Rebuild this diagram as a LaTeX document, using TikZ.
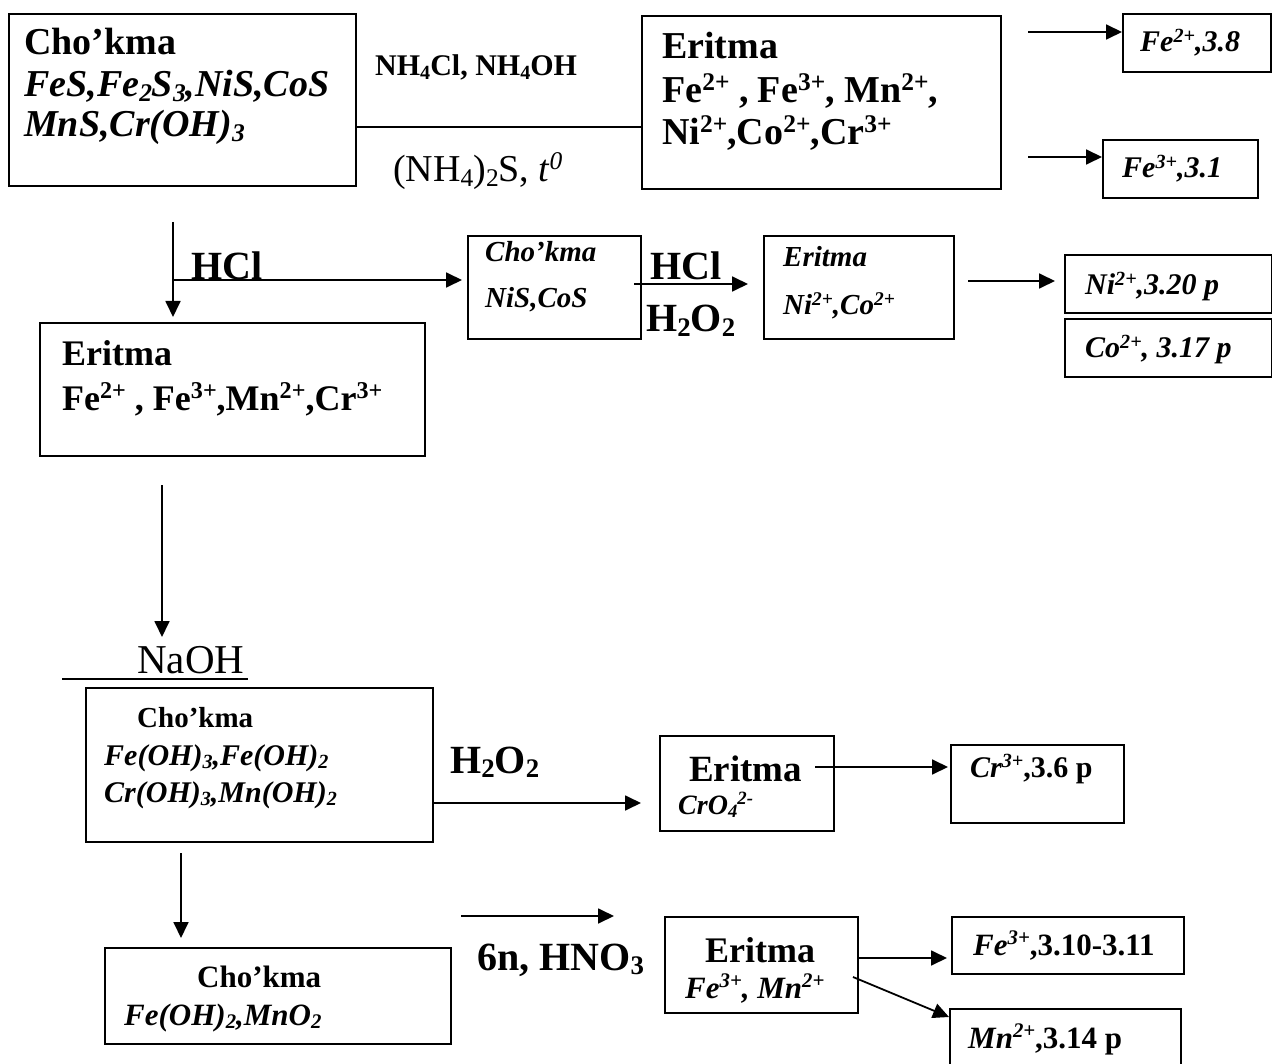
\documentclass[tikz,border=0pt]{standalone}
\usepackage{fontspec}
\usepackage{graphicx}
\setmainfont{Liberation Serif}
\usetikzlibrary{arrows.meta}
\newcommand\sps[1]{\raisebox{0.33em}{\scalebox{0.67}{#1}}}
\newcommand\sbs[1]{\raisebox{-0.12em}{\scalebox{0.67}{#1}}}
\newcommand\fz[1]{\fontsize{#1}{#1}\selectfont}
\tikzset{
  bx/.style={draw, line width=1.8pt, inner sep=0pt, anchor=north west},
  tx/.style={anchor=base west, inner sep=0pt},
  arr/.style={line width=1.8pt, -{Triangle[length=16pt,width=15pt]}},
  ln/.style={line width=1.8pt},
}
\begin{document}
\begin{tikzpicture}[x=1pt,y=-1pt]
\fill[white] (0,0) rectangle (1272,1064);
\useasboundingbox (0,0) rectangle (1272,1064);
% boxes
\node[bx, minimum width=347pt, minimum height=172pt] (b1) at (8,13) {};
\node[bx, minimum width=359pt, minimum height=173pt] (b2) at (641,15) {};
\node[bx, minimum width=148pt, minimum height=58pt] (f38) at (1122,13) {};
\node[bx, minimum width=155pt, minimum height=58pt] (f31) at (1102,139) {};
\node[bx, minimum width=385pt, minimum height=133pt] (b3) at (39,322) {};
\node[bx, minimum width=173pt, minimum height=103pt] (nis) at (467,235) {};
\node[bx, minimum width=190pt, minimum height=103pt] (nico) at (763,235) {};
\node[bx, minimum width=207pt, minimum height=58pt] (ni) at (1064,254) {};
\node[bx, minimum width=207pt, minimum height=58pt] (co) at (1064,318) {};
\node[bx, minimum width=347pt, minimum height=154pt] (b4) at (85,687) {};
\node[bx, minimum width=174pt, minimum height=95pt] (cro) at (659,735) {};
\node[bx, minimum width=173pt, minimum height=78pt] (cr) at (950,744) {};
\node[bx, minimum width=346pt, minimum height=96pt] (b5) at (104,947) {};
\node[bx, minimum width=193pt, minimum height=96pt] (fm) at (664,916) {};
\node[bx, minimum width=232pt, minimum height=57pt] (fe) at (951,916) {};
\node[bx, minimum width=231pt, minimum height=80pt] (mn) at (949,1008) {};
% texts
\node[tx, font=\fz{38}\bfseries] (t1a) at (24,55) {Cho’kma};
\node[tx, font=\fz{38}\bfseries\itshape] (t1b) at (24,97) {FeS,Fe\sbs{2}S\sbs{3},NiS,CoS};
\node[tx, font=\fz{38}\bfseries\itshape] (t1c) at (24,137) {MnS,Cr(OH)\sbs{3}};
\node[tx, font=\fz{30}\bfseries] (lnh) at (375,76) {NH\sbs{4}Cl, NH\sbs{4}OH};
\node[tx, font=\fz{38}] (lns) at (393,182) {(NH\sbs{4})\sbs{2}S, \textit{t\sps{0}}};
\node[tx, font=\fz{38}\bfseries] (t2a) at (662,59) {Eritma};
\node[tx, font=\fz{38}\bfseries] (t2b) at (662,103) {Fe\sps{2+} , Fe\sps{3+}, Mn\sps{2+},};
\node[tx, font=\fz{38}\bfseries] (t2c) at (662,145) {Ni\sps{2+},Co\sps{2+},Cr\sps{3+}};
\node[tx, font=\fz{30}\bfseries\itshape] (tf38) at (1140,52) {Fe\sps{2+},3.8};
\node[tx, font=\fz{30}\bfseries\itshape] (tf31) at (1122,178) {Fe\sps{3+},3.1};
\node[tx, font=\fz{40}\bfseries] (lhcl) at (191,280) {HCl};
\node[tx, font=\fz{29}\bfseries\itshape] (tna) at (485,262) {Cho’kma};
\node[tx, font=\fz{29}\bfseries\itshape] (tnb) at (485,308) {NiS,CoS};
\node[tx, font=\fz{40}\bfseries] (lhcl2) at (650,280) {HCl};
\node[tx, font=\fz{40}\bfseries] (lh2o2a) at (646,332) {H\sbs{2}O\sbs{2}};
\node[tx, font=\fz{29}\bfseries\itshape] (tca) at (783,267) {Eritma};
\node[tx, font=\fz{29}\bfseries\itshape] (tcb) at (783,315) {Ni\sps{2+},Co\sps{2+}};
\node[tx, font=\fz{30}\bfseries\itshape] (tni) at (1085,295) {Ni\sps{2+},3.20 p};
\node[tx, font=\fz{30}\bfseries\itshape] (tco) at (1085,358) {Co\sps{2+}, 3.17 p};
\node[tx, font=\fz{36}\bfseries] (t3a) at (62,366) {Eritma};
\node[tx, font=\fz{36}\bfseries] (t3b) at (62,410) {Fe\sps{2+} , Fe\sps{3+},Mn\sps{2+},Cr\sps{3+}};
\node[tx, font=\fz{41}] (lnaoh) at (137,673) {NaOH};
\node[tx, font=\fz{29}\bfseries] (t4a) at (137,727) {Cho’kma};
\node[tx, font=\fz{30}\bfseries\itshape] (t4b) at (104,765) {Fe(OH)\sbs{3},Fe(OH)\sbs{2}};
\node[tx, font=\fz{30}\bfseries\itshape] (t4c) at (104,802) {Cr(OH)\sbs{3},Mn(OH)\sbs{2}};
\node[tx, font=\fz{40}\bfseries] (lh2o2b) at (450,773) {H\sbs{2}O\sbs{2}};
\node[tx, font=\fz{37}\bfseries] (tra) at (689,781) {Eritma};
\node[tx, font=\fz{28}\bfseries\itshape] (trb) at (678,814) {CrO\sbs{4}\sps{2-}};
\node[tx, font=\fz{30}\bfseries] (tcr) at (970,777) {\textit{Cr\sps{3+}},3.6 p};
\node[tx, font=\fz{31}\bfseries] (t5a) at (197,987) {Cho’kma};
\node[tx, font=\fz{31}\bfseries\itshape] (t5b) at (124,1025) {Fe(OH)\sbs{2},MnO\sbs{2}};
\node[tx, font=\fz{40}\bfseries] (lhno) at (477,970) {6n, HNO\sbs{3}};
\node[tx, font=\fz{36}\bfseries] (tma) at (705,962) {Eritma};
\node[tx, font=\fz{31}\bfseries\itshape] (tmb) at (685,998) {Fe\sps{3+}, Mn\sps{2+}};
\node[tx, font=\fz{31}\bfseries] (tfe) at (973,955) {\textit{Fe\sps{3+}},3.10-3.11};
\node[tx, font=\fz{31}\bfseries] (tmn) at (968,1048) {\textit{Mn\sps{2+}},3.14 p};
% coordinates
\coordinate (y1) at (0,127);
\coordinate (s1) at (1028,32);
\coordinate (s2) at (1028,157);
\coordinate (s3) at (173,222);
\coordinate (s4) at (173,280);
\coordinate (s5) at (634,284);
\coordinate (s6) at (968,281);
\coordinate (s7) at (162,485);
\coordinate (e7) at (162,637);
\coordinate (u1) at (62,679);
\coordinate (u2) at (248,679);
\coordinate (y8) at (0,803);
\coordinate (s9) at (815,767);
\coordinate (s10) at (181,853);
\coordinate (s11) at (461,916);
\coordinate (e11) at (614,916);
\coordinate (y12) at (0,958);
\coordinate (s13) at (853,977);
% connectors
\draw[ln] (b1.east |- y1) -- (b2.west |- y1);
\draw[arr] (s1) -- (f38.west |- s1);
\draw[arr] (s2) -- (f31.west |- s2);
\draw[arr, shorten >=5pt] (s3) -- (s3 |- b3.north);
\draw[arr, shorten >=5pt] (s4) -- (nis.west |- s4);
\draw[arr, shorten >=15pt] (s5) -- (nico.west |- s5);
\draw[arr, shorten >=9pt] (s6) -- (ni.west |- s6);
\draw[arr] (s7) -- (e7);
\draw[ln] (u1) -- (u2);
\draw[arr, shorten >=18pt] (b4.east |- y8) -- (cro.west |- y8);
\draw[arr, shorten >=2pt] (s9) -- (cr.west |- s9);
\draw[arr, shorten >=9pt] (s10) -- (s10 |- b5.north);
\draw[arr] (s11) -- (e11);
\draw[arr, shorten >=4pt] (fm.east |- y12) -- (fe.west |- y12);
\draw[arr] (s13) -- ([yshift=-9pt]mn.north west);
\end{tikzpicture}
\end{document}
